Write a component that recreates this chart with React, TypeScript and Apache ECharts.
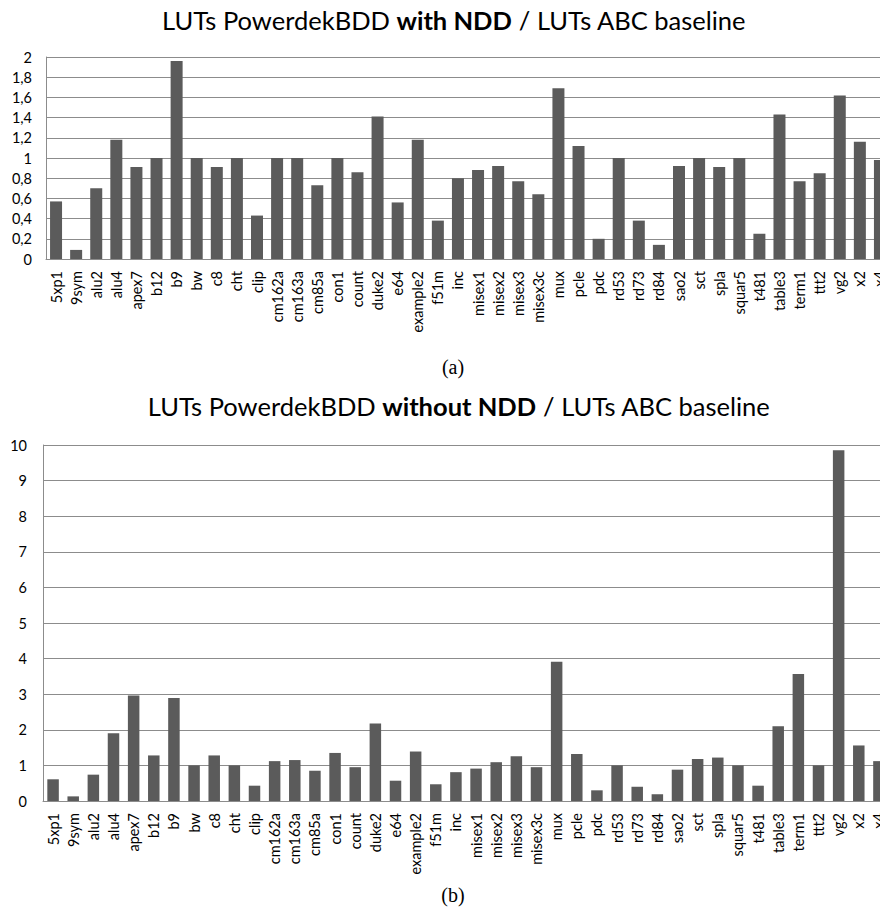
import React, { useEffect, useRef } from 'react';
import * as echarts from 'echarts';

const categories = ['5xp1','9sym','alu2','alu4','apex7','b12','b9','bw','c8','cht','clip','cm162a','cm163a','cm85a','con1','count','duke2','e64','example2','f51m','inc','misex1','misex2','misex3','misex3c','mux','pcle','pdc','rd53','rd73','rd84','sao2','sct','spla','squar5','t481','table3','term1','ttt2','vg2','x2','x4'];

const withNdd = [0.57, 0.09, 0.70, 1.18, 0.91, 1.00, 1.96, 1.00, 0.91, 1.00, 0.43, 1.00, 1.00, 0.73, 1.00, 0.86, 1.41, 0.56, 1.18, 0.38, 0.80, 0.88, 0.92, 0.77, 0.64, 1.69, 1.12, 0.20, 1.00, 0.38, 0.14, 0.92, 1.00, 0.91, 1.00, 0.25, 1.43, 0.77, 0.85, 1.62, 1.16, 0.98];

const withoutNdd = [0.61, 0.13, 0.74, 1.90, 2.96, 1.28, 2.89, 1.00, 1.28, 1.00, 0.43, 1.12, 1.15, 0.85, 1.35, 0.95, 2.18, 0.57, 1.39, 0.47, 0.81, 0.91, 1.09, 1.26, 0.95, 3.91, 1.32, 0.30, 1.00, 0.40, 0.19, 0.88, 1.18, 1.22, 1.00, 0.43, 2.10, 3.57, 1.00, 9.85, 1.56, 1.12];

const ticksA = ['0', '0,2', '0,4', '0,6', '0,8', '1', '1,2', '1,4', '1,6', '1,8', '2'];
const ticksB = ['0', '1', '2', '3', '4', '5', '6', '7', '8', '9', '10'];

const titleA = ['LUTs PowerdekBDD ', 'with NDD', ' / LUTs ABC baseline'];
const titleB = ['LUTs PowerdekBDD ', 'without NDD', ' / LUTs ABC baseline'];

const FONT = 'Lato';
const GRID_COLOR = '#8c8c8c';
const BAR_COLOR = '#5b5b5b';

export default function App() {
  const ref = useRef<HTMLDivElement>(null);
  useEffect(() => {
    if (!ref.current) return;
    const chart = echarts.init(ref.current, null, { renderer: 'svg' });
    const richStyles = {
      n: { fontSize: 25.5, fontFamily: FONT, fill: '#000', color: '#000' },
      b: { fontSize: 25.5, fontFamily: FONT, fontWeight: 'bold', fill: '#000', color: '#000' },
    };
    const yAxisCommon = {
      type: 'value',
      min: 0,
      axisLine: { show: true, lineStyle: { color: GRID_COLOR, width: 1 } },
      axisTick: { show: false },
      splitLine: { show: true, lineStyle: { color: GRID_COLOR, width: 1 } },
    };
    const xAxisCommon = {
      type: 'category',
      data: categories,
      axisLine: { show: true, lineStyle: { color: GRID_COLOR, width: 1 } },
      axisTick: { show: false },
      axisLabel: { interval: 0, rotate: 90, fontFamily: FONT, fontSize: 14.5, color: '#000', margin: 12 },
    };
    chart.setOption({
      animation: false,
      backgroundColor: '#ffffff',
      grid: [
        { left: 46, top: 57, width: 844, height: 202, containLabel: false },
        { left: 43, top: 445, width: 846, height: 356, containLabel: false },
      ],
      xAxis: [
        { ...xAxisCommon, gridIndex: 0 },
        { ...xAxisCommon, gridIndex: 1 },
      ],
      yAxis: [
        {
          ...yAxisCommon,
          gridIndex: 0,
          max: 2,
          interval: 0.2,
          axisLabel: {
            fontFamily: FONT, fontSize: 14.5, color: '#000', margin: 14,
            formatter: (v: number) => ticksA[Math.round(v / 0.2)] ?? '',
          },
        },
        {
          ...yAxisCommon,
          gridIndex: 1,
          max: 10,
          interval: 1,
          axisLabel: {
            fontFamily: FONT, fontSize: 14.5, color: '#000', margin: 16,
            formatter: (v: number) => ticksB[Math.round(v)] ?? '',
          },
        },
      ],
      series: [
        {
          type: 'bar', xAxisIndex: 0, yAxisIndex: 0, data: withNdd, barWidth: 12,
          itemStyle: { color: BAR_COLOR },
        },
        {
          type: 'bar', xAxisIndex: 1, yAxisIndex: 1, data: withoutNdd, barWidth: 11.5,
          itemStyle: { color: BAR_COLOR },
        },
      ],
      graphic: [
        {
          type: 'text', x: 454, y: 20,
          style: {
            text: `{n|${titleA[0]}}{b|${titleA[1]}}{n|${titleA[2]}}`,
            rich: richStyles, align: 'center', verticalAlign: 'middle',
          },
        },
        {
          type: 'text', x: 459, y: 406,
          style: {
            text: `{n|${titleB[0]}}{b|${titleB[1]}}{n|${titleB[2]}}`,
            rich: richStyles, align: 'center', verticalAlign: 'middle',
          },
        },
        {
          type: 'text', x: 453, y: 367,
          style: { text: '(a)', fontFamily: 'Liberation Serif', fontSize: 20, fill: '#000', align: 'center', verticalAlign: 'middle' },
        },
        {
          type: 'text', x: 453, y: 895,
          style: { text: '(b)', fontFamily: 'Liberation Serif', fontSize: 20, fill: '#000', align: 'center', verticalAlign: 'middle' },
        },
      ],
    });
    return () => chart.dispose();
  }, []);
  return (
    <div style={{ position: 'absolute', left: 0, top: 0, width: 880, height: 920, overflow: 'hidden', background: '#fff' }}>
      <div ref={ref} style={{ width: 900, height: 920 }} />
    </div>
  );
}
